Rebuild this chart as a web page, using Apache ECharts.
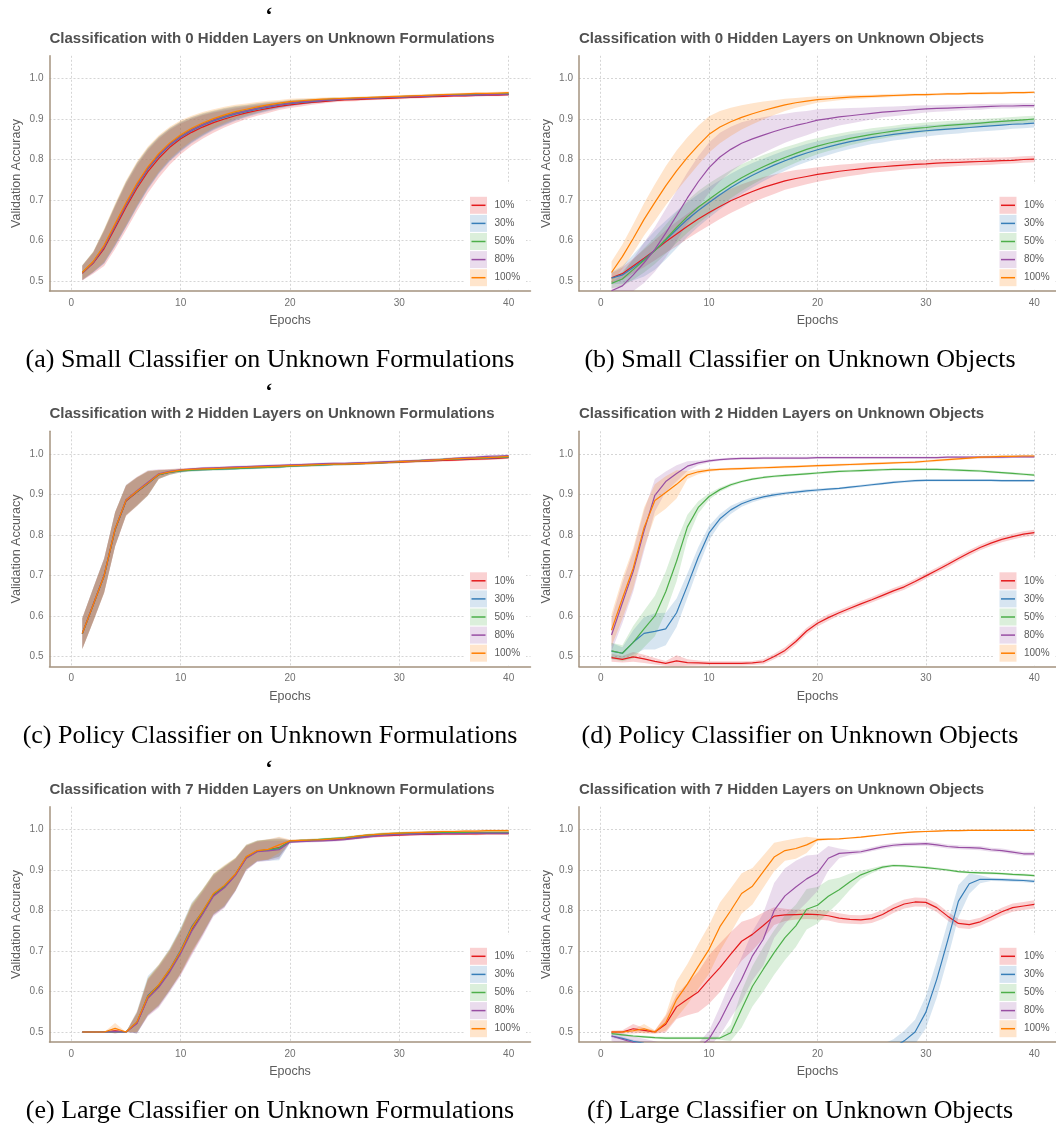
<!DOCTYPE html>
<html>
<head>
<meta charset="utf-8">
<script src="https://cdn.jsdelivr.net/npm/echarts@6/dist/echarts.min.js"></script>
<style>
  html, body { margin: 0; padding: 0; background: #ffffff; }
  #chart { width: 1056px; height: 1126px; }
</style>
</head>
<body>
<div id="chart"></div>
<script>
// ---- shared labels ----
const epochs = [1,2,3,4,5,6,7,8,9,10,11,12,13,14,15,16,17,18,19,20,21,22,23,24,25,26,27,28,29,30,31,32,33,34,35,36,37,38,39,40];
const groupNames = ['10%', '30%', '50%', '80%', '100%'];
const xTicks = [0, 10, 20, 30, 40];
const yTicks = [0.5, 0.6, 0.7, 0.8, 0.9, 1.0];
const panelTitles = [
  'Classification with 0 Hidden Layers on Unknown Formulations',
  'Classification with 0 Hidden Layers on Unknown Objects',
  'Classification with 2 Hidden Layers on Unknown Formulations',
  'Classification with 2 Hidden Layers on Unknown Objects',
  'Classification with 7 Hidden Layers on Unknown Formulations',
  'Classification with 7 Hidden Layers on Unknown Objects'
];
const panelCaptions = [
  '(a) Small Classifier on Unknown Formulations',
  '(b) Small Classifier on Unknown Objects',
  '(c) Policy Classifier on Unknown Formulations',
  '(d) Policy Classifier on Unknown Objects',
  '(e) Large Classifier on Unknown Formulations',
  '(f) Large Classifier on Unknown Objects'
];

// ---- (a) 0 hidden layers, unknown formulations: mean accuracy ----
const a10  = [.519,.544,.580,.631,.682,.729,.770,.803,.830,.851,.867,.880,.891,.900,.908,.915,.921,.926,.931,.935,.938,.941,.943,.945,.947,.948,.949,.950,.951,.952,.953,.954,.955,.956,.957,.957,.958,.959,.959,.960];
const a30  = [.520,.546,.584,.636,.688,.735,.776,.809,.835,.855,.871,.884,.895,.904,.912,.918,.924,.929,.934,.938,.941,.943,.945,.947,.949,.950,.951,.952,.953,.954,.955,.956,.957,.958,.959,.959,.960,.960,.961,.961];
const a50  = [.521,.547,.586,.638,.690,.738,.779,.812,.838,.858,.874,.887,.898,.907,.915,.921,.927,.932,.936,.940,.943,.945,.947,.949,.950,.951,.952,.953,.954,.955,.956,.957,.958,.959,.960,.960,.961,.961,.962,.962];
const a80  = [.520,.546,.585,.637,.689,.737,.778,.811,.837,.857,.873,.886,.897,.906,.914,.920,.926,.931,.935,.939,.942,.944,.946,.948,.949,.950,.951,.952,.953,.954,.955,.956,.957,.958,.958,.959,.959,.960,.960,.961];
const a100 = [.521,.548,.588,.641,.693,.741,.782,.815,.841,.861,.877,.890,.901,.910,.918,.924,.930,.935,.939,.943,.945,.947,.949,.950,.951,.952,.953,.954,.955,.956,.957,.958,.959,.960,.961,.962,.963,.963,.964,.965];
// spread (half width of the shaded band)
const a10Sd = [.018,.026,.043,.052,.057,.056,.053,.048,.043,.038,.033,.029,.025,.021,.018,.015,.013,.011,.009,.008,.007,.006,.005,.004,.004,.004,.003,.003,.003,.003,.003,.003,.003,.003,.003,.003,.003,.003,.003,.003];
const aSd   = [.018,.025,.041,.050,.055,.054,.050,.045,.040,.036,.031,.027,.023,.020,.017,.014,.012,.010,.008,.007,.006,.005,.004,.004,.003,.003,.003,.003,.003,.003,.003,.003,.003,.003,.003,.003,.003,.003,.003,.003];

// ---- (b) 0 hidden layers, unknown objects ----
const b10  = [.508,.518,.537,.556,.576,.597,.616,.635,.653,.669,.684,.698,.710,.721,.731,.739,.747,.753,.758,.763,.767,.771,.774,.777,.780,.782,.784,.786,.788,.789,.791,.792,.793,.794,.795,.796,.797,.798,.800,.801];
const b30  = [.507,.515,.533,.553,.576,.601,.627,.652,.674,.694,.713,.731,.747,.761,.774,.786,.797,.807,.816,.824,.831,.838,.844,.849,.854,.858,.862,.865,.868,.871,.873,.875,.877,.879,.881,.883,.885,.887,.888,.890];
const b50  = [.494,.505,.528,.551,.575,.603,.632,.659,.682,.702,.721,.739,.755,.769,.782,.794,.805,.815,.825,.833,.840,.846,.852,.857,.862,.866,.870,.874,.877,.879,.882,.884,.886,.888,.890,.892,.894,.896,.898,.900];
const b80  = [.476,.488,.515,.545,.578,.618,.661,.705,.745,.780,.806,.825,.840,.851,.860,.869,.877,.884,.890,.897,.901,.905,.908,.911,.914,.917,.919,.921,.923,.925,.926,.927,.928,.929,.930,.931,.932,.932,.933,.933];
const b100 = [.521,.560,.605,.652,.694,.735,.772,.805,.835,.862,.880,.893,.904,.913,.921,.928,.935,.940,.944,.948,.950,.952,.954,.955,.956,.957,.958,.959,.960,.960,.961,.962,.962,.963,.963,.964,.964,.965,.965,.966];
const b10Sd  = [.012,.015,.018,.022,.025,.028,.030,.031,.032,.032,.031,.030,.029,.027,.026,.024,.022,.021,.019,.018,.017,.016,.015,.014,.013,.012,.012,.011,.011,.010,.010,.010,.009,.009,.009,.009,.008,.008,.008,.008];
const b30Sd  = [.015,.022,.032,.042,.048,.048,.046,.043,.040,.038,.036,.034,.032,.030,.028,.026,.025,.023,.022,.021,.020,.019,.018,.017,.016,.016,.015,.015,.014,.014,.013,.013,.013,.012,.012,.012,.012,.011,.011,.011];
const b50Sd  = [.012,.018,.025,.030,.033,.036,.038,.040,.040,.039,.037,.035,.033,.031,.029,.027,.025,.023,.022,.020,.019,.018,.017,.016,.015,.014,.013,.013,.012,.012,.011,.011,.010,.010,.010,.009,.009,.009,.009,.008];
const b80Sd  = [.020,.030,.040,.050,.055,.060,.062,.063,.063,.062,.060,.056,.052,.048,.044,.040,.036,.033,.030,.027,.024,.021,.019,.017,.015,.013,.012,.011,.010,.009,.008,.008,.007,.007,.007,.006,.006,.006,.006,.006];
const b100Sd = [.027,.030,.035,.040,.045,.048,.050,.050,.048,.045,.040,.035,.030,.026,.022,.018,.015,.012,.010,.008,.007,.006,.005,.005,.004,.004,.004,.003,.003,.003,.003,.003,.003,.003,.003,.003,.003,.003,.003,.003];

// ---- (c) 2 hidden layers, unknown formulations ----
const c10  = [.556,.627,.699,.813,.884,.906,.927,.949,.955,.959,.961,.963,.964,.965,.966,.967,.968,.969,.970,.971,.972,.973,.974,.975,.975,.976,.977,.978,.979,.980,.981,.982,.983,.984,.985,.986,.987,.988,.989,.991];
const c30  = [.557,.628,.700,.814,.885,.907,.927,.949,.955,.958,.960,.961,.962,.963,.964,.965,.966,.967,.968,.970,.971,.972,.973,.974,.975,.976,.977,.978,.979,.981,.982,.983,.984,.986,.987,.988,.989,.990,.991,.992];
const c50  = [.556,.628,.700,.814,.886,.907,.928,.949,.955,.958,.960,.961,.962,.963,.964,.965,.966,.967,.968,.970,.971,.972,.973,.974,.975,.976,.977,.978,.980,.981,.982,.984,.985,.987,.988,.989,.990,.991,.992,.993];
const c80  = [.557,.629,.701,.815,.887,.909,.930,.951,.957,.961,.963,.965,.966,.967,.968,.969,.970,.971,.972,.973,.974,.975,.976,.977,.977,.978,.979,.980,.981,.982,.983,.984,.986,.987,.989,.991,.992,.994,.995,.996];
const c100 = [.557,.628,.700,.815,.886,.908,.928,.950,.956,.960,.962,.963,.964,.965,.966,.967,.968,.969,.970,.971,.972,.973,.974,.975,.975,.976,.977,.978,.979,.981,.982,.983,.985,.986,.988,.989,.990,.991,.992,.994];
const cSd  = [.038,.041,.042,.042,.037,.035,.030,.011,.006,.004,.003,.003,.003,.003,.003,.003,.003,.003,.003,.003,.003,.003,.003,.003,.003,.003,.003,.003,.003,.003,.003,.003,.003,.003,.003,.003,.003,.003,.003,.003];

// ---- (d) 2 hidden layers, unknown objects ----
const d10  = [.497,.493,.499,.494,.488,.483,.489,.485,.484,.483,.483,.483,.483,.484,.487,.500,.515,.537,.563,.582,.596,.608,.619,.630,.640,.651,.662,.672,.685,.699,.713,.727,.742,.756,.769,.780,.789,.796,.802,.806];
const d30  = [.513,.508,.535,.557,.562,.568,.608,.675,.745,.805,.840,.862,.877,.887,.894,.899,.903,.906,.909,.911,.913,.915,.918,.921,.924,.927,.930,.932,.934,.935,.935,.935,.935,.935,.935,.935,.934,.934,.934,.934];
const d50  = [.514,.508,.535,.568,.600,.660,.735,.820,.868,.895,.912,.924,.932,.938,.942,.945,.947,.949,.951,.953,.955,.957,.958,.959,.960,.961,.962,.962,.962,.962,.962,.961,.960,.959,.958,.956,.954,.952,.950,.948];
const d80  = [.553,.632,.710,.810,.898,.932,.952,.970,.978,.983,.986,.988,.989,.989,.990,.990,.990,.990,.990,.991,.991,.991,.991,.991,.991,.991,.991,.991,.991,.991,.991,.992,.992,.992,.992,.992,.992,.993,.993,.993];
const d100 = [.565,.643,.718,.818,.885,.905,.925,.948,.956,.960,.962,.963,.964,.965,.966,.967,.968,.969,.970,.971,.972,.973,.974,.975,.976,.977,.978,.979,.980,.982,.984,.986,.988,.990,.992,.993,.994,.994,.995,.995];
const d10Sd  = [.010,.008,.012,.010,.008,.006,.014,.008,.006,.005,.005,.005,.005,.005,.006,.007,.008,.008,.008,.008,.008,.007,.007,.007,.007,.007,.007,.007,.007,.007,.007,.007,.007,.007,.007,.007,.007,.007,.007,.007];
const d30Sd  = [.020,.015,.030,.040,.045,.040,.035,.030,.025,.018,.012,.010,.007,.006,.005,.005,.004,.004,.004,.004,.003,.003,.003,.003,.003,.003,.003,.003,.003,.003,.003,.003,.003,.003,.003,.003,.003,.003,.003,.003];
const d50Sd  = [.020,.020,.040,.045,.050,.050,.050,.030,.015,.008,.005,.004,.003,.003,.003,.003,.003,.003,.003,.003,.003,.003,.003,.003,.003,.003,.003,.003,.003,.003,.003,.003,.003,.003,.003,.003,.003,.003,.003,.003];
const d80Sd  = [.040,.050,.050,.050,.040,.025,.020,.012,.006,.004,.003,.003,.003,.003,.003,.003,.003,.003,.003,.003,.003,.003,.003,.003,.003,.003,.003,.003,.003,.003,.003,.003,.003,.003,.003,.003,.003,.003,.003,.003];
const d100Sd = [.040,.050,.050,.050,.040,.040,.035,.010,.006,.004,.003,.003,.003,.003,.003,.003,.003,.003,.003,.003,.003,.003,.003,.003,.003,.003,.003,.003,.003,.003,.003,.003,.003,.003,.003,.003,.003,.003,.003,.003];

// ---- (e) 7 hidden layers, unknown formulations ----
const e10  = [.500,.500,.500,.503,.500,.522,.585,.613,.652,.697,.752,.794,.838,.858,.888,.930,.946,.950,.955,.971,.972,.973,.974,.975,.977,.979,.982,.984,.985,.986,.987,.988,.988,.989,.989,.990,.989,.990,.990,.990];
const e30  = [.500,.500,.500,.501,.500,.524,.590,.616,.655,.702,.760,.797,.840,.860,.889,.932,.947,.949,.952,.970,.972,.973,.974,.976,.978,.981,.984,.986,.988,.989,.990,.990,.991,.991,.991,.991,.991,.991,.991,.991];
const e50  = [.500,.500,.500,.501,.500,.523,.587,.615,.653,.699,.755,.796,.840,.860,.889,.931,.947,.950,.954,.971,.973,.974,.976,.978,.980,.983,.986,.988,.990,.991,.992,.992,.993,.993,.993,.993,.993,.993,.993,.993];
const e80  = [.500,.500,.500,.501,.500,.521,.583,.610,.648,.694,.748,.790,.835,.856,.886,.929,.945,.947,.950,.969,.970,.971,.972,.973,.975,.978,.981,.984,.986,.987,.988,.989,.989,.990,.990,.990,.991,.991,.991,.991];
const e100 = [.500,.500,.500,.509,.500,.525,.588,.617,.655,.700,.757,.798,.842,.862,.890,.933,.948,.951,.962,.972,.973,.974,.975,.977,.979,.983,.986,.988,.990,.991,.992,.993,.994,.995,.995,.996,.996,.997,.997,.997];
const eSd    = [.000,.000,.000,.004,.000,.025,.045,.050,.050,.055,.060,.055,.050,.050,.040,.030,.025,.025,.022,.003,.003,.003,.003,.003,.003,.003,.003,.003,.003,.003,.003,.003,.003,.003,.003,.003,.003,.003,.003,.003];
const e30Sd  = [.000,.000,.000,.003,.000,.028,.048,.050,.052,.056,.060,.055,.050,.050,.040,.030,.026,.026,.028,.003,.003,.003,.003,.003,.003,.003,.003,.003,.003,.003,.003,.003,.003,.003,.003,.003,.003,.003,.003,.003];
const e100Sd = [.000,.000,.000,.013,.000,.025,.045,.050,.050,.055,.060,.055,.050,.050,.040,.030,.025,.025,.020,.003,.003,.003,.003,.003,.003,.003,.003,.003,.003,.003,.003,.003,.003,.003,.003,.003,.003,.003,.003,.003];

// ---- (f) 7 hidden layers, unknown objects ----
const f10  = [.500,.500,.508,.504,.500,.519,.562,.581,.599,.630,.659,.692,.724,.741,.763,.786,.789,.790,.791,.790,.787,.781,.778,.777,.780,.790,.805,.816,.821,.820,.807,.786,.768,.765,.772,.784,.797,.807,.811,.815];
const f30  = [.490,.484,.477,.472,.468,.465,.462,.460,.458,.457,.456,.455,.455,.454,.454,.453,.453,.452,.452,.452,.451,.451,.450,.450,.452,.455,.462,.478,.500,.549,.630,.725,.823,.866,.877,.877,.876,.875,.874,.872];
const f50  = [.496,.493,.490,.488,.486,.485,.485,.485,.485,.485,.485,.498,.556,.613,.655,.696,.733,.762,.803,.813,.835,.851,.871,.888,.898,.907,.911,.910,.908,.906,.903,.900,.896,.894,.893,.892,.891,.889,.888,.886];
const f80  = [.490,.482,.474,.468,.462,.458,.455,.455,.460,.483,.527,.580,.630,.688,.729,.800,.836,.858,.878,.893,.929,.941,.943,.945,.951,.957,.961,.963,.964,.965,.962,.958,.956,.955,.954,.950,.948,.944,.940,.940];
const f100 = [.500,.500,.503,.508,.500,.523,.580,.618,.662,.704,.760,.800,.842,.860,.896,.932,.948,.953,.962,.975,.976,.977,.979,.981,.984,.987,.990,.992,.994,.995,.996,.997,.997,.998,.998,.998,.998,.998,.998,.998];
const f10Sd  = [.003,.004,.012,.006,.004,.020,.030,.040,.050,.060,.060,.055,.048,.040,.032,.022,.015,.012,.012,.012,.012,.012,.011,.011,.011,.011,.011,.011,.011,.011,.011,.011,.011,.011,.010,.010,.010,.010,.010,.010];
const f30Sd  = [.004,.004,.004,.004,.004,.004,.004,.004,.004,.004,.004,.004,.004,.004,.004,.004,.004,.004,.004,.004,.004,.004,.004,.006,.010,.015,.020,.025,.030,.040,.045,.045,.040,.025,.010,.004,.004,.004,.004,.004];
const f50Sd  = [.003,.003,.003,.003,.003,.003,.003,.003,.003,.003,.004,.020,.045,.050,.055,.055,.055,.052,.050,.045,.040,.030,.020,.010,.006,.004,.003,.003,.003,.003,.003,.003,.003,.003,.003,.003,.003,.003,.003,.003];
const f80Sd  = [.012,.015,.015,.015,.015,.012,.010,.010,.012,.020,.035,.045,.055,.060,.065,.068,.068,.065,.058,.045,.030,.012,.006,.005,.005,.005,.005,.005,.005,.005,.005,.005,.005,.005,.005,.005,.005,.005,.005,.005];
const f100Sd = [.003,.003,.003,.012,.004,.020,.045,.050,.055,.060,.060,.055,.050,.045,.040,.035,.025,.025,.020,.004,.002,.002,.002,.002,.002,.002,.002,.002,.002,.002,.002,.002,.002,.002,.002,.002,.002,.002,.002,.002];

// ---- panel assembly: one entry per small multiple, groups in legend order ----
const panelMeans = [
  [a10, a30, a50, a80, a100],
  [b10, b30, b50, b80, b100],
  [c10, c30, c50, c80, c100],
  [d10, d30, d50, d80, d100],
  [e10, e30, e50, e80, e100],
  [f10, f30, f50, f80, f100]
];
const panelSpreads = [
  [a10Sd, aSd, aSd, aSd, aSd],
  [b10Sd, b30Sd, b50Sd, b80Sd, b100Sd],
  [cSd, cSd, cSd, cSd, cSd],
  [d10Sd, d30Sd, d50Sd, d80Sd, d100Sd],
  [eSd, e30Sd, eSd, eSd, e100Sd],
  [f10Sd, f30Sd, f50Sd, f80Sd, f100Sd]
];

// ---- styling ----
const lineColors = ['#e41a1c', '#377eb8', '#4daf4a', '#984ea3', '#ff7f00'];
const bandColors = ['rgba(228,26,28,0.2)', 'rgba(55,126,184,0.2)', 'rgba(77,175,74,0.2)', 'rgba(152,78,163,0.2)', 'rgba(255,127,0,0.2)'];
const SANS = "'Liberation Sans', Arial, Helvetica, sans-serif";
const SERIF = "'Liberation Serif', 'Times New Roman', serif";
const AXIS_LINE = '#a4937f';
const GRID_LINE = '#d5d5d5';

// layout of the 3 x 2 grid of plots
const colLeft = [49.5, 579];
const rowTop = [55.8, 431.3, 806.8];
const plotW = 481;
const plotH = 235.3;
const titleMid = [40.4, 415.4, 791.3];
const captionX = [270, 800];
const captionY = [360.5, 736, 1111.5];

// shaded ribbon between lower and upper bound, drawn as one polygon
// through the axis scales of the series' own grid
function ribbonRenderer(color, xs, lo, hi) {
  return function (params, api) {
    if (params.dataIndex !== 0) return null;
    const pts = [];
    for (let i = 0; i < xs.length; i++) pts.push(api.coord([xs[i], lo[i]]));
    for (let i = xs.length - 1; i >= 0; i--) pts.push(api.coord([xs[i], hi[i]]));
    return { type: 'polygon', shape: { points: pts }, style: { fill: color } };
  };
}

const grids = [], xAxes = [], yAxes = [], series = [], titles = [], graphics = [];

for (let p = 0; p < 6; p++) {
  const col = p % 2, row = Math.floor(p / 2);
  const gl = colLeft[col], gt = rowTop[row];
  grids.push({ left: gl, top: gt, width: plotW, height: plotH, containLabel: false });

  xAxes.push({
    gridIndex: p, type: 'value', min: -2, max: 42,
    name: 'Epochs', nameLocation: 'middle', nameGap: 23,
    nameTextStyle: { fontFamily: SANS, fontSize: 12.5, color: '#5c5c5c' },
    axisLine: { show: true, onZero: false, lineStyle: { color: AXIS_LINE, width: 1.5 } },
    axisTick: { show: false, customValues: xTicks },
    axisLabel: { customValues: xTicks, fontFamily: SANS, fontSize: 10, color: '#707070', margin: 7 },
    splitLine: { show: true, lineStyle: { color: GRID_LINE, width: 1, type: [2, 2] } }
  });
  yAxes.push({
    gridIndex: p, type: 'value', min: 0.475, max: 1.056,
    name: 'Validation Accuracy', nameLocation: 'middle', nameGap: 26,
    nameTextStyle: { fontFamily: SANS, fontSize: 12.5, color: '#5c5c5c' },
    axisLine: { show: true, onZero: false, lineStyle: { color: AXIS_LINE, width: 1.5 } },
    axisTick: { show: false, customValues: yTicks },
    axisLabel: { customValues: yTicks, fontFamily: SANS, fontSize: 10, color: '#707070', margin: 6,
                 formatter: v => v.toFixed(1) },
    splitLine: { show: true, lineStyle: { color: GRID_LINE, width: 1, type: [2, 2] } }
  });

  titles.push({
    text: panelTitles[p], left: gl, top: titleMid[row] - 9, padding: 0,
    textStyle: { fontFamily: SANS, fontSize: 15, fontWeight: 'bold', color: '#505050' }
  });

  // ribbons first, mean lines on top
  for (let g = 0; g < 5; g++) {
    const m = panelMeans[p][g], s = panelSpreads[p][g];
    const lo = m.map((v, i) => v - s[i]);
    const hi = m.map((v, i) => v + s[i]);
    series.push({
      type: 'custom', name: groupNames[g], xAxisIndex: p, yAxisIndex: p,
      coordinateSystem: 'cartesian2d', clip: true, silent: true, z: 1,
      data: epochs.map((e, i) => [e, lo[i], hi[i]]),
      encode: { x: 0, y: [1, 2] },
      renderItem: ribbonRenderer(bandColors[g], epochs, lo, hi)
    });
  }
  for (let g = 0; g < 5; g++) {
    series.push({
      type: 'line', name: groupNames[g], xAxisIndex: p, yAxisIndex: p,
      data: epochs.map((e, i) => [e, panelMeans[p][g][i]]),
      symbol: 'none', z: 3, lineStyle: { color: lineColors[g], width: 1.2 }
    });
  }

  // legend panel inside the plot, bottom right
  graphics.push({
    type: 'rect', z: 50, silent: true,
    shape: { x: gl + 415.5, y: gt + 128, width: 61, height: 106 },
    style: { fill: '#ffffff' }
  });
  for (let g = 0; g < 5; g++) {
    const sy = gt + 141 + g * 18.1;
    const sx = gl + 420.5;
    graphics.push({
      type: 'rect', z: 51, silent: true,
      shape: { x: sx, y: sy, width: 17, height: 17 },
      style: { fill: bandColors[g] }
    });
    graphics.push({
      type: 'line', z: 52, silent: true,
      shape: { x1: sx + 1.5, y1: sy + 8.5, x2: sx + 15.5, y2: sy + 8.5 },
      style: { stroke: lineColors[g], lineWidth: 1.5 }
    });
    graphics.push({
      type: 'text', z: 52, silent: true,
      style: { x: gl + 445, y: sy + 8.5, text: groupNames[g], font: '10px ' + SANS,
               fill: '#5a5a5a', textAlign: 'left', textVerticalAlign: 'middle' }
    });
  }

  // sub-figure caption
  graphics.push({
    type: 'text', z: 60, silent: true,
    style: { x: captionX[col], y: captionY[row], text: panelCaptions[p], font: '26px ' + SERIF,
             fill: '#000000', textAlign: 'center', textVerticalAlign: 'middle' }
  });
}

// stray opening quote marks above the left column
[16, 392, 769].forEach(y => {
  graphics.push({
    type: 'text', z: 60, silent: true,
    style: { x: 269, y: y, text: '\u2018', font: 'bold 22px ' + SERIF, fill: '#000000',
             textAlign: 'center', textVerticalAlign: 'middle' }
  });
});

const chart = echarts.init(document.getElementById('chart'), null, { renderer: 'canvas' });
chart.setOption({
  animation: false,
  backgroundColor: '#ffffff',
  title: titles,
  grid: grids,
  xAxis: xAxes,
  yAxis: yAxes,
  series: series,
  graphic: { elements: graphics }
});
</script>
</body>
</html>
